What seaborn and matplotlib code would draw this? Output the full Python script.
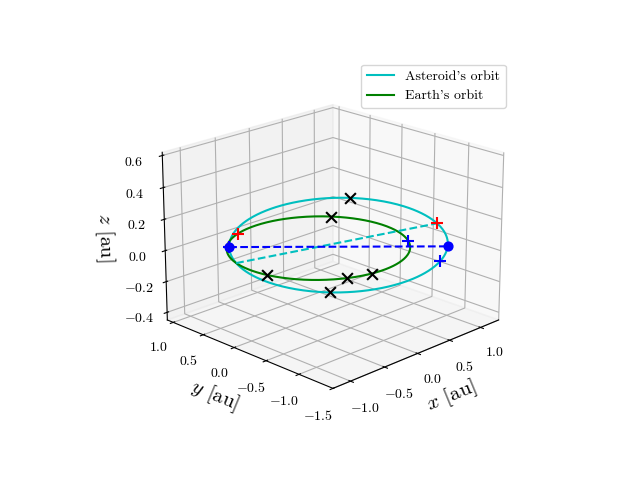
import numpy as np
import matplotlib
matplotlib.use("Agg")
import matplotlib.pyplot as plt
import seaborn as sns

plt.rcParams.update({"font.family": "serif", "font.serif": ["cmr10"],
                     "mathtext.fontset": "cm", "axes.formatter.use_mathtext": True,
                     "axes.unicode_minus": False})
sns.set_palette(["c", "g"])

# orbital elements (estimated)
earth_radius = 1.0
ast_a = 1.2
ast_e = 0.2
ast_inc_deg = -3.2
ast_peri_from_node_deg = 24.0
node_dir_deg = 135.0
# marker angles, measured from the ascending node (deg)
apsides_ast = [24.0, -156.0]
nodes_ast = [0.0, 180.0]
red_plus_ast = [0.0, -156.0]
red_plus_earth = [-25.0]
blue_plus_ast = [0.0, 165.0]
blue_plus_earth = [-170.0]
black_x_ast = [-105.0, 97.0]
black_x_earth = [-97.0, 58.0, 108.0, 125.0]

def ast_pos(phi_deg):
    phi = np.radians(np.asarray(phi_deg, float))
    nu = phi - np.radians(ast_peri_from_node_deg)
    r = ast_a * (1 - ast_e**2) / (1 + ast_e * np.cos(nu))
    px, py = r * np.cos(phi), r * np.sin(phi)
    inc = np.radians(ast_inc_deg)
    py2, pz = py * np.cos(inc), py * np.sin(inc)
    w = np.radians(node_dir_deg)
    return (px * np.cos(w) - py2 * np.sin(w), px * np.sin(w) + py2 * np.cos(w), pz)

def earth_pos(th_deg):
    th = np.radians(np.asarray(th_deg, float)) + np.radians(node_dir_deg)
    return (earth_radius * np.cos(th), earth_radius * np.sin(th), 0 * th)

fig = plt.figure(figsize=(6.4, 4.8), dpi=100)
ax = fig.add_subplot(projection="3d")
t = np.linspace(0, 360, 400)
ax.plot(*ast_pos(t), color="c", label="Asteroid's orbit")
ax.plot(*earth_pos(t), color="g", label="Earth's orbit")
ax.plot(*ast_pos(apsides_ast), "c--")
ax.plot(*ast_pos(nodes_ast), "b--")
ax.scatter(*ast_pos(nodes_ast), color="b", s=40, depthshade=False)
ax.scatter(*ast_pos(red_plus_ast), color="r", marker="+", s=80, depthshade=False)
ax.scatter(*earth_pos(red_plus_earth), color="r", marker="+", s=80, depthshade=False)
ax.scatter(*ast_pos(blue_plus_ast), color="b", marker="+", s=80, depthshade=False)
ax.scatter(*earth_pos(blue_plus_earth), color="b", marker="+", s=80, depthshade=False)
ax.scatter(*ast_pos(black_x_ast), color="k", marker="x", s=60, depthshade=False)
ax.scatter(*earth_pos(black_x_earth), color="k", marker="x", s=60, depthshade=False)

ax.set_xlim(-1.25, 1.3)
ax.set_ylim(-1.5, 1.1)
ax.set_zlim(-0.45, 0.62)
ax.set_xticks([-1.0, -0.5, 0.0, 0.5, 1.0])
ax.set_yticks([-1.5, -1.0, -0.5, 0.0, 0.5, 1.0])
ax.set_zticks([-0.4, -0.2, 0.0, 0.2, 0.4, 0.6])
ax.set_xlabel(r"$x$ [au]", fontsize=15)
ax.set_ylabel(r"$y$ [au]", fontsize=15)
ax.set_zlabel(r"$z$ [au]", fontsize=15)
ax.view_init(elev=20, azim=-135)
ax.legend(loc="upper right")
fig.savefig("out.png", dpi=100)
